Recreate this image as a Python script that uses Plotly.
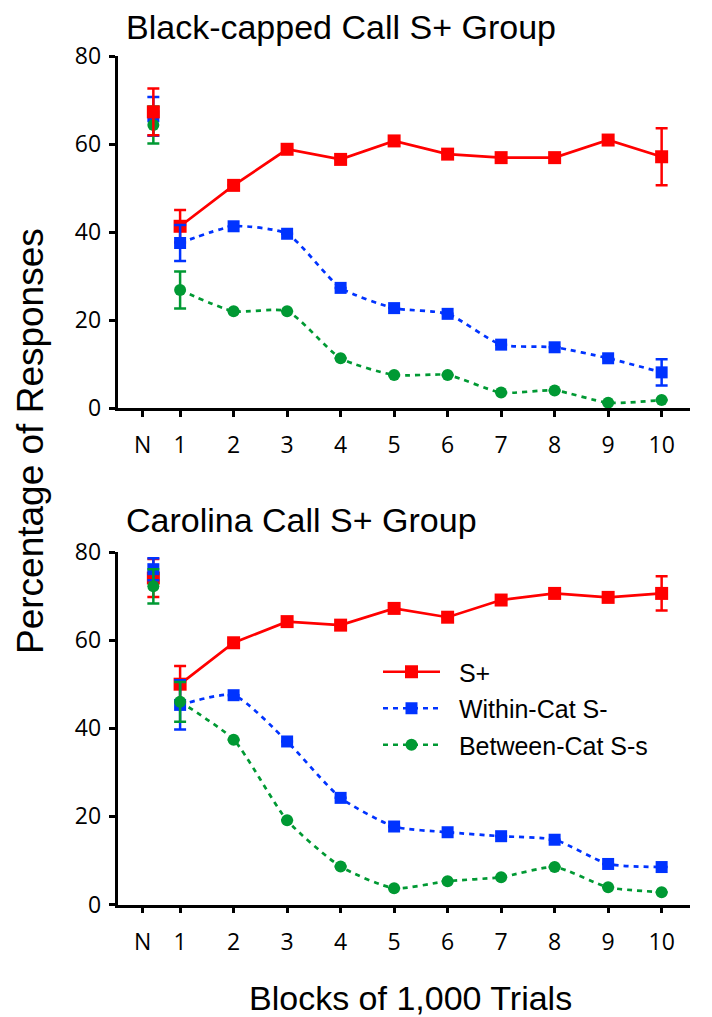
import plotly.graph_objects as go

# ---------------- data ----------------
blocks = [1, 2, 3, 4, 5, 6, 7, 8, 9, 10]
n_pos = [0.5]                      # position of the naive (N) point
tick_vals = [0.3, 1, 2, 3, 4, 5, 6, 7, 8, 9, 10]
tick_text = ["N", "1", "2", "3", "4", "5", "6", "7", "8", "9", "10"]

# Black-capped Call S+ Group
bc_n_splus, bc_n_splus_err = 67.3, 5.3
bc_n_within, bc_n_within_err = 66.3, 4.4
bc_n_between, bc_n_between_err = 64.3, 4.2
bc_splus = [41.3, 50.6, 58.8, 56.5, 60.7, 57.7, 56.9, 56.9, 60.9, 57.1]
bc_splus_err = [3.7, None, None, None, None, None, None, None, None, 6.5]
bc_within = [37.5, 41.3, 39.6, 27.3, 22.7, 21.4, 14.4, 13.8, 11.3, 8.1]
bc_within_err = [4.1, None, None, None, None, None, None, None, None, 3.0]
bc_between = [26.8, 22.0, 22.0, 11.3, 7.5, 7.5, 3.5, 4.0, 1.2, 1.8]
bc_between_err = [4.2, None, None, None, None, None, None, None, None, None]

# Carolina Call S+ Group
ca_n_splus, ca_n_splus_err = 74.1, 4.3
ca_n_within, ca_n_within_err = 76.1, 2.5
ca_n_between, ca_n_between_err = 72.2, 3.9
ca_splus = [50.0, 59.4, 64.2, 63.4, 67.2, 65.2, 69.1, 70.6, 69.7, 70.6]
ca_splus_err = [4.1, None, None, None, None, None, None, None, None, 3.9]
ca_within = [45.3, 47.5, 37.0, 24.2, 17.7, 16.4, 15.5, 14.7, 9.2, 8.5]
ca_within_err = [5.6, None, None, None, None, None, None, None, None, None]
ca_between = [46.0, 37.4, 19.1, 8.6, 3.7, 5.3, 6.2, 8.5, 3.9, 2.8]
ca_between_err = [4.5, None, None, None, None, None, None, None, None, None]

series_names = ["S+", "Within-Cat S-", "Between-Cat S-s"]

# ---------------- styles ----------------
RED = "#FF0000"
BLUE = "#0033FF"
GREEN = "#009933"
styles = {
    "S+": dict(color=RED, symbol="square", size=13, dash="solid", shape="linear"),
    "Within-Cat S-": dict(color=BLUE, symbol="square", size=12, dash="5px,5px", shape="spline"),
    "Between-Cat S-s": dict(color=GREEN, symbol="circle", size=12, dash="5px,5px", shape="spline"),
}
LEGEND_PAD = "\u00a0\u00a0"

fig = go.Figure()


def add_series(name, xa, ya, vals, errs, show_legend, rank):
    st = styles[name]
    fig.add_trace(go.Scatter(
        x=blocks, y=vals, mode="lines+markers", name=LEGEND_PAD + name,
        xaxis=xa, yaxis=ya, cliponaxis=False,
        line=dict(color=st["color"], width=2.7, dash=st["dash"], shape=st["shape"], smoothing=0.6),
        marker=dict(symbol=st["symbol"], size=st["size"], color=st["color"]),
        error_y=dict(type="data", array=errs, visible=True, color=st["color"],
                     thickness=2.5, width=6),
        showlegend=show_legend, legendgroup=name, legendrank=rank,
    ))


def add_n(name, xa, ya, n_val, n_err):
    st = styles[name]
    fig.add_trace(go.Scatter(
        x=n_pos, y=[n_val], mode="markers", name=name,
        xaxis=xa, yaxis=ya, cliponaxis=False,
        marker=dict(symbol=st["symbol"], size=st["size"], color=st["color"]),
        error_y=dict(type="data", array=[n_err], visible=True, color=st["color"],
                     thickness=2.5, width=6),
        showlegend=False, legendgroup=name,
    ))


# top panel
add_series("S+", "x", "y", bc_splus, bc_splus_err, False, 1)
add_series("Within-Cat S-", "x", "y", bc_within, bc_within_err, False, 2)
add_series("Between-Cat S-s", "x", "y", bc_between, bc_between_err, False, 3)
add_n("Within-Cat S-", "x", "y", bc_n_within, bc_n_within_err)
add_n("Between-Cat S-s", "x", "y", bc_n_between, bc_n_between_err)
add_n("S+", "x", "y", bc_n_splus, bc_n_splus_err)

# bottom panel
add_series("S+", "x2", "y2", ca_splus, ca_splus_err, True, 1)
add_series("Within-Cat S-", "x2", "y2", ca_within, ca_within_err, True, 2)
add_series("Between-Cat S-s", "x2", "y2", ca_between, ca_between_err, True, 3)
add_n("S+", "x2", "y2", ca_n_splus, ca_n_splus_err)
add_n("Within-Cat S-", "x2", "y2", ca_n_within, ca_n_within_err)
add_n("Between-Cat S-s", "x2", "y2", ca_n_between, ca_n_between_err)

# the page places the figure 8 px from the top-left corner
OFF = 8
W, H = 712 - OFF, 1017 - OFF


def px(x):
    return (x - OFF) / W


def py(y):
    return 1 - (y - OFF) / H


xdom = [px(117.5), px(690)]
ydom_top = [py(408), py(56)]
ydom_bot = [py(904.5), py(552)]

tick_font = dict(family="Open Sans, Arial, sans-serif", size=23, color="black")
axis_common = dict(showline=True, linecolor="black", linewidth=2.5, ticks="outside",
                   ticklen=6, tickwidth=2.5, tickcolor="black", showgrid=False,
                   zeroline=False, tickfont=tick_font, automargin=False)

xaxis_common = dict(axis_common, range=[-0.17, 10.53], tickmode="array",
                    tickvals=tick_vals, ticktext=tick_text, ticklabelstandoff=9)
yaxis_common = dict(axis_common, range=[0, 80], tickmode="array",
                    tickvals=[0, 20, 40, 60, 80], ticklabelstandoff=3)

TITLE_FONT = dict(size=34, family="Liberation Sans, Arial, sans-serif", color="black")

fig.update_layout(
    width=W, height=H, autosize=False,
    margin=dict(l=0, r=0, t=0, b=0, pad=0, autoexpand=False),
    plot_bgcolor="white", paper_bgcolor="white",
    font=dict(family="Liberation Sans, Arial, sans-serif", color="black"),
    xaxis=dict(xaxis_common, domain=xdom, anchor="y"),
    yaxis=dict(yaxis_common, domain=ydom_top, anchor="x"),
    xaxis2=dict(xaxis_common, domain=xdom, anchor="y2"),
    yaxis2=dict(yaxis_common, domain=ydom_bot, anchor="x2"),
    legend=dict(x=px(378), y=py(649), xanchor="left", yanchor="top",
                font=dict(family="Liberation Sans, Arial, sans-serif", size=25, color="black"),
                bgcolor="rgba(0,0,0,0)", traceorder="grouped", tracegroupgap=1,
                itemwidth=57),
    showlegend=True,
    annotations=[
        dict(text="Black-capped Call S+ Group", x=px(124), y=py(27), xref="paper", yref="paper",
             xanchor="left", yanchor="middle", showarrow=False, font=TITLE_FONT),
        dict(text="Carolina Call S+ Group", x=px(124), y=py(520), xref="paper", yref="paper",
             xanchor="left", yanchor="middle", showarrow=False, font=TITLE_FONT),
        dict(text="Percentage of Responses", x=px(30), y=py(441), xref="paper", yref="paper",
             xanchor="center", yanchor="middle", showarrow=False, textangle=-90,
             font=dict(TITLE_FONT, size=37)),
        dict(text="Blocks of 1,000 Trials", x=px(411), y=py(998), xref="paper", yref="paper",
             xanchor="center", yanchor="middle", showarrow=False, font=TITLE_FONT),
    ],
)

fig.write_html("out.html")
